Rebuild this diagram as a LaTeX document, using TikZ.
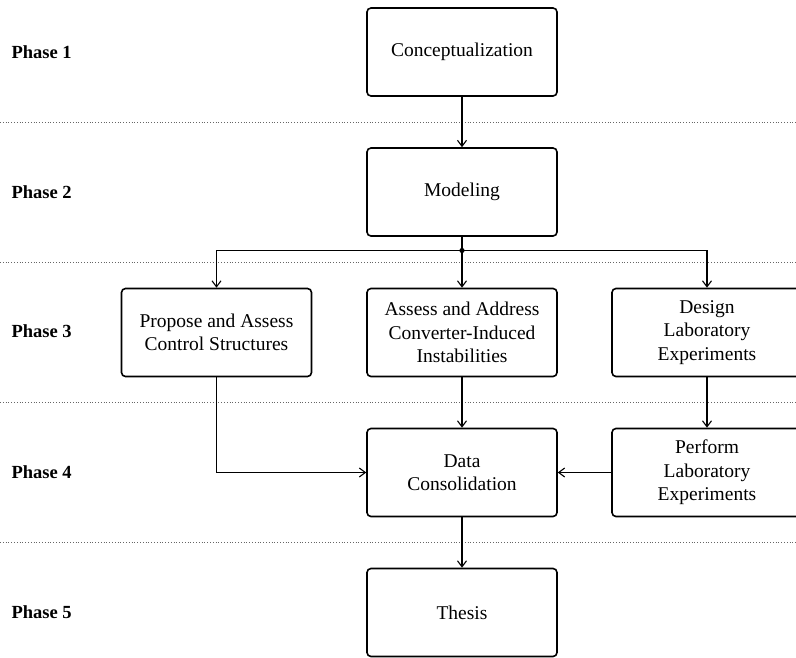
\documentclass[tikz,border=0pt]{standalone}
\usepackage{fontspec}
\setmainfont{Liberation Serif}
\usetikzlibrary{arrows.meta}
\begin{document}
\begin{tikzpicture}[x=1pt,y=-1pt,
  box/.style={draw, line width=1.6pt, rounded corners=4pt, minimum width=190pt, minimum height=88pt, align=center, inner sep=2pt, font=\fontsize{19.5}{23.3}\selectfont},
  phase/.style={anchor=west, font=\fontsize{18.5}{22}\selectfont\bfseries},
  sep/.style={gray!80!black, line width=0.8pt, dotted},
  conn/.style={line width=1.1pt, -{Straight Barb[length=6pt,width=9pt,line width=1.1pt]}},
  plain/.style={line width=1.1pt}]
\useasboundingbox (0,0) rectangle (796,657);
% separators
\foreach \yy in {122,262,402,542} \draw[sep] (0,\yy) -- (796,\yy);
% phase labels
\node[phase] (p1) at (8,52) {Phase 1};
\node[phase] (p2) at (8,192) {Phase 2};
\node[phase] (p3) at (8,331) {Phase 3};
\node[phase] (p4) at (8,472) {Phase 4};
\node[phase] (p5) at (8,612) {Phase 5};
% boxes
\node[box] (concept) at (462,52) {Conceptualization};
\node[box] (model) at (462,192) {Modeling};
\node[box] (propose) at (216.5,332.5) {Propose and Assess\\Control Structures};
\node[box] (assess) at (462,332.5) {Assess and Address\\Converter-Induced\\Instabilities};
\node[box] (design) at (707,332.5) {Design\\Laboratory\\Experiments};
\node[box] (data) at (462,472.5) {Data\\Consolidation};
\node[box] (perform) at (707,472.5) {Perform\\Laboratory\\Experiments};
\node[box] (thesis) at (462,612.5) {Thesis};
% connectors
\coordinate (junc) at (462,250.5);
\draw[conn] (concept) -- (model);
\draw[plain] (model) -- (junc);
\fill (junc) circle (2.6pt);
\draw[conn] (junc) -| (propose.north);
\draw[conn] (junc) -- (assess);
\draw[conn] (junc) -| (design.north);
\draw[conn] (assess) -- (data);
\draw[conn] (design) -- (perform);
\draw[conn] (propose.south) |- (data.west);
\draw[conn] (perform) -- (data);
\draw[conn] (data) -- (thesis);
\end{tikzpicture}
\end{document}
